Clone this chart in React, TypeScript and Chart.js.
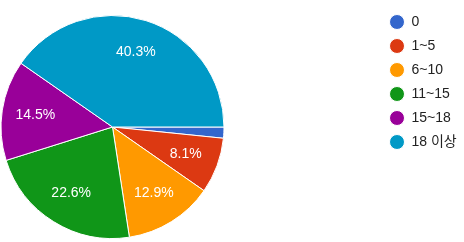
import React, { useEffect, useRef } from "react";
import { Chart, registerables } from "chart.js";

Chart.register(...registerables);

const categories = ["0", "1~5", "6~10", "11~15", "15~18", "18 이상"];
const counts = [1, 5, 8, 14, 9, 25];
const colors = ["#3366cc", "#dc3912", "#ff9900", "#109618", "#990099", "#0099c6"];

const FONT = "Arial, 'Liberation Sans', 'Noto Sans CJK KR', sans-serif";

const pieArea = {
  id: "pieArea",
  afterLayout(chart: any) {
    const ca = chart.chartArea;
    ca.left = 0;
    ca.right = 225;
    ca.top = 15;
    ca.bottom = 239;
    ca.width = ca.right - ca.left;
    ca.height = ca.bottom - ca.top;
  },
};

const sliceLabels = {
  id: "sliceLabels",
  afterDatasetsDraw(chart: any) {
    const ctx = chart.ctx;
    const data = chart.data.datasets[0].data as number[];
    const total = data.reduce((a, b) => a + b, 0);
    const meta = chart.getDatasetMeta(0);
    ctx.save();
    ctx.font = `14px ${FONT}`;
    ctx.fillStyle = "#ffffff";
    ctx.textAlign = "center";
    ctx.textBaseline = "middle";
    meta.data.forEach((arc: any, i: number) => {
      const pct = (data[i] / total) * 100;
      if (pct < 5) return;
      const { x, y, startAngle, endAngle, outerRadius } = arc.getProps(
        ["x", "y", "startAngle", "endAngle", "outerRadius"],
        true
      );
      const mid = (startAngle + endAngle) / 2;
      const r = outerRadius * 0.7;
      ctx.fillText(pct.toFixed(1) + "%", x + Math.cos(mid) * r, y + Math.sin(mid) * r);
    });
    ctx.restore();
  },
};

export default function App() {
  const ref = useRef<HTMLCanvasElement | null>(null);
  useEffect(() => {
    document.body.style.margin = "0";
    if (!ref.current) return;
    const chart = new Chart(ref.current, {
      type: "pie",
      data: {
        labels: categories,
        datasets: [
          {
            data: counts,
            backgroundColor: colors,
            borderColor: "#ffffff",
            borderWidth: 1,
          },
        ],
      },
      options: {
        responsive: false,
        animation: false,
        rotation: 90,
        layout: { padding: { top: 5, right: 4.5, bottom: 0, left: 0 } },
        plugins: {
          tooltip: { enabled: false },
          legend: {
            position: "right",
            align: "start",
            maxWidth: 80,
            labels: {
              usePointStyle: true,
              pointStyle: "circle",
              pointStyleWidth: 15,
              boxHeight: 10.6,
              padding: 10,
              color: "#222222",
              font: { family: FONT, size: 14 },
            },
          },
        },
      },
      plugins: [pieArea, sliceLabels],
    } as any);
    return () => chart.destroy();
  }, []);
  return (
    <div style={{ width: 464, height: 242 }}>
      <canvas ref={ref} width={464} height={242} />
    </div>
  );
}
